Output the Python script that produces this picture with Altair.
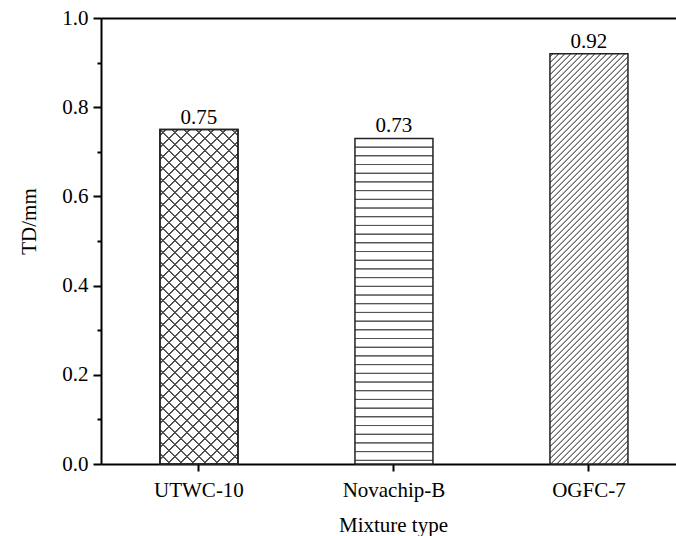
import altair as alt
import pandas as pd

# ---- data ----
categories = ["UTWC-10", "Novachip-B", "OGFC-7"]
td_values = [0.75, 0.73, 0.92]
y_major = [0.0, 0.2, 0.4, 0.6, 0.8, 1.0]
y_minor = [0.1, 0.3, 0.5, 0.7, 0.9]

df = pd.DataFrame({"mixture": categories, "td": td_values})

# ---- layout / style ----
W, H = 575, 446
BAR_W = 78
FONT = "Liberation Serif"
FS = 21
CLEAR = "rgba(255,255,255,0)"


def stripe_stops(period, span, denom, half, color, bg, phase):
    stops = [(0.0, bg)]
    c = phase
    while c - half <= span:
        lo = max(c - half, 0.0) / denom
        hi = min(c + half, denom) / denom
        ilo = max(c - half * 0.35, 0.0) / denom
        ihi = min(c + half * 0.35, denom) / denom
        stops += [(lo, bg), (ilo, color), (ihi, color), (hi, bg)]
        c += period
    stops.append((1.0, bg))
    out = []
    last = 0.0
    for o, col in stops:
        o = min(max(o, last), 1.0)
        last = o
        out.append(alt.GradientStop(offset=round(o, 6), color=col))
    return out


def diag_gradient(value, period, half, color, bg, direction, phase):
    h = value * H
    w = BAR_W
    r = h / w
    denom = w * (1 + r * r)
    span = w + h
    stops = stripe_stops(period, span, denom, half, color, bg, phase)
    if direction == "up":
        return alt.LinearGradient(gradient="linear", stops=stops, x1=0, y1=0, x2=1, y2=r)
    return alt.LinearGradient(gradient="linear", stops=stops, x1=1, y1=0, x2=0, y2=r)


def horiz_gradient(value, period, half, color, bg):
    h = value * H
    stops = stripe_stops(period, h, h, half, color, bg, period)
    return alt.LinearGradient(gradient="linear", stops=stops, x1=0, y1=0, x2=0, y2=1)


x_scale = alt.Scale(domain=categories, paddingInner=0.6, paddingOuter=0.2744, align=0.551)
y_scale = alt.Scale(domain=[0, 1])

x_main_axis = alt.Axis(
    orient="bottom", title="Mixture type", labelAngle=0, labelFont=FONT, labelFontSize=FS,
    labelColor="black", labelPadding=8, tickSize=7, tickWidth=2, tickColor="black",
    domainColor="black", domainWidth=2, titleFont=FONT, titleFontSize=FS,
    titleFontWeight="normal", titleColor="black", titleX=292, titleY=67,
    titleBaseline="alphabetic", titleAlign="center", grid=False,
)
x_top_axis = alt.Axis(orient="top", title=None, labels=False, ticks=False,
                      domainColor="black", domainWidth=2, grid=False)
y_main_axis = alt.Axis(
    orient="left", values=y_major, format=".1f", title="TD/mm", labelFont=FONT,
    labelFontSize=FS, labelColor="black", labelPadding=5, tickSize=8, tickWidth=2,
    tickColor="black", domainColor="black", domainWidth=2, titleFont=FONT,
    titleFontSize=FS, titleFontWeight="normal", titleColor="black", titleX=-66,
    titleY=203, titleAngle=270, titleBaseline="alphabetic", titleAlign="center", grid=False,
)
y_minor_axis = alt.Axis(orient="left", values=y_minor, title=None, labels=False,
                        tickSize=4, tickWidth=2, tickColor="black", domain=False, grid=False)

base = alt.Chart(df)

fills = {
    "UTWC-10": diag_gradient(td_values[0], 12, 1.3, "#444444", "white", "up", 6),
    "Novachip-B": horiz_gradient(td_values[1], 8.7, 1.0, "#555555", "white"),
    "OGFC-7": diag_gradient(td_values[2], 6, 1.0, "#666666", "white", "up", 3),
}

layers = []
for i, cat in enumerate(categories):
    first = i == 0
    layers.append(
        base.transform_filter(alt.datum.mixture == cat)
        .mark_bar(fill=fills[cat], stroke="#222222", strokeWidth=1.5)
        .encode(
            x=alt.X("mixture:N", scale=x_scale, sort=None,
                    axis=x_main_axis if first else None),
            y=alt.Y("td:Q", scale=y_scale, axis=y_main_axis if first else None),
        )
    )

# second hatch direction on the first bar (cross-hatch)
cross = diag_gradient(td_values[0], 12, 1.3, "#444444", CLEAR, "down", 6)
layers.append(
    base.transform_filter(alt.datum.mixture == categories[0])
    .mark_bar(fill=cross, stroke="#222222", strokeWidth=1.5)
    .encode(
        x=alt.X("mixture:N", scale=x_scale, sort=None, axis=None),
        y=alt.Y("td:Q", scale=y_scale, axis=None),
    )
)

labels = base.mark_text(baseline="alphabetic", dy=-6, font=FONT, fontSize=FS, color="black").encode(
    x=alt.X("mixture:N", scale=x_scale, sort=None, axis=x_top_axis),
    y=alt.Y("td:Q", scale=y_scale, axis=y_minor_axis),
    text=alt.Text("td:Q", format=".2f"),
)
layers.append(labels)

chart = (
    alt.layer(*layers)
    .resolve_axis(x="independent", y="independent")
    .properties(
        width=W,
        height=H,
        padding={"left": 101, "top": 18, "right": 0, "bottom": 72},
        autosize=alt.AutoSizeParams(type="none"),
        background="white",
    )
    .configure_view(stroke=None)
)

chart.save("out.html", embed_options={"renderer": "svg", "actions": False})
